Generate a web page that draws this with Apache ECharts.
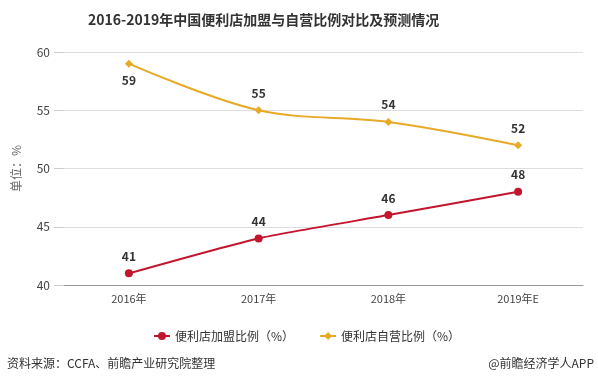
<!DOCTYPE html>
<html><head><meta charset="utf-8">
<script src="https://cdn.jsdelivr.net/npm/echarts@6/dist/echarts.min.js"></script>
<style>html,body{margin:0;padding:0;background:#fff}#c{width:598px;height:385px}</style>
</head><body><div id="c"></div>
<script>
const categories = ['2016年', '2017年', '2018年', '2019年E'];
const franchise = [41, 44, 46, 48];
const selfOwned = [59, 55, 54, 52];
const seriesNames = ['便利店加盟比例（%）', '便利店自营比例（%）'];
const yTicks = { min: 40, max: 60, interval: 5 };

const chart = echarts.init(document.getElementById('c'), null, { renderer: 'canvas' });
const font = "'Microsoft YaHei','Noto Sans CJK SC',sans-serif";
chart.setOption({
  animation: false,
  textStyle: { fontFamily: font },
  title: {
    text: '2016-2019年中国便利店加盟与自营比例对比及预测情况',
    left: 83, top: 8,
    textStyle: { fontSize: 14, fontWeight: 'bold', color: '#333', fontFamily: font }
  },
  legend: {
    top: 325, left: 148, itemGap: 25, itemWidth: 16, itemHeight: 10,
    textStyle: { fontSize: 12, color: '#333' },
    data: seriesNames
  },
  grid: { left: 64, right: 15, top: 52, bottom: 100 },
  xAxis: {
    type: 'category', data: categories, boundaryGap: true,
    axisLine: { lineStyle: { color: '#999' } },
    axisTick: { alignWithLabel: true, length: 4, lineStyle: { color: '#999' } },
    axisLabel: { color: '#444', fontSize: 11, margin: 8 }
  },
  yAxis: {
    type: 'value', min: yTicks.min, max: yTicks.max, interval: yTicks.interval,
    name: '单位：%', nameLocation: 'middle', nameGap: 42, nameRotate: 90,
    nameTextStyle: { color: '#666', fontSize: 12 },
    axisLine: { show: false },
    axisTick: { show: true, length: 10, lineStyle: { color: '#ccc' } },
    axisLabel: { color: '#444', fontSize: 12, margin: 14 },
    splitLine: { lineStyle: { color: '#ddd' } }
  },
  series: [
    {
      name: seriesNames[0], type: 'line', data: franchise, smooth: 0.2,
      symbol: 'circle', symbolSize: 8,
      itemStyle: { color: '#c3152e' }, lineStyle: { width: 2, color: '#c3152e' },
      label: { show: true, position: 'top', distance: 7, color: '#333', fontWeight: 'bold', fontSize: 12 }
    },
    {
      name: seriesNames[1], type: 'line',
      data: selfOwned.map((v, i) => i === 0 ? { value: v, label: { position: 'bottom' } } : v),
      smooth: 0.35,
      symbol: 'diamond', symbolSize: 8,
      itemStyle: { color: '#e8a927' }, lineStyle: { width: 2, color: '#e8a927' },
      label: { show: true, position: 'top', distance: 7, color: '#333', fontWeight: 'bold', fontSize: 12 }
    }
  ],
  graphic: [
    { type: 'text', left: 7, top: 357, style: { text: '资料来源：CCFA、前瞻产业研究院整理', fill: '#333', fontSize: 12, fontFamily: font } },
    { type: 'text', right: 4, top: 357, style: { text: '@前瞻经济学人APP', fill: '#333', fontSize: 12, fontFamily: font } }
  ]
});
</script></body></html>
